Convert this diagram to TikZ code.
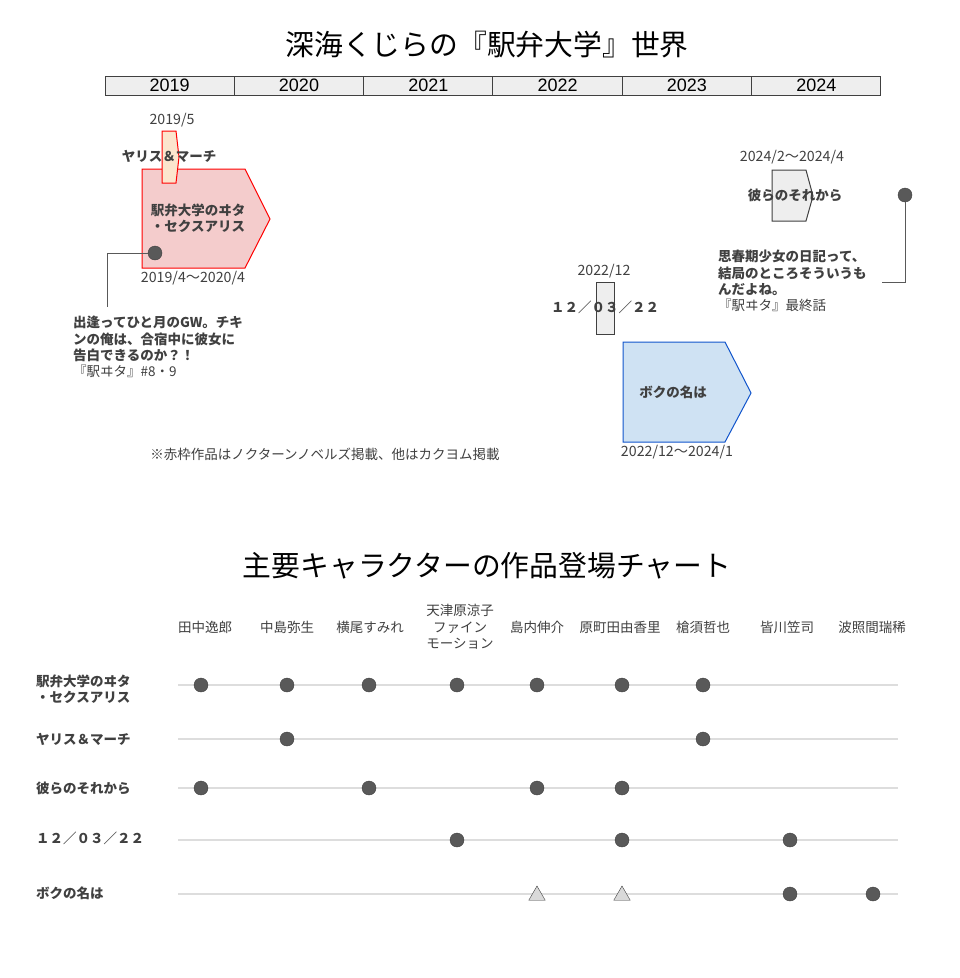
\documentclass[tikz,border=0pt]{standalone}
\usepackage{fontspec}
\setmainfont{Noto Sans CJK JP}
\newfontfamily\yearfont{Liberation Sans}
\usepackage{tikz}
\usetikzlibrary{shapes.geometric}

\definecolor{pinkfill}{HTML}{F4CCCC}
\definecolor{orangefill}{HTML}{FCE5CD}
\definecolor{grayfill}{HTML}{EEEEEE}
\definecolor{bluefill}{HTML}{CFE2F3}
\definecolor{blueedge}{HTML}{1155CC}
\definecolor{textgray}{HTML}{404040}
\definecolor{dotgray}{HTML}{595959}
\definecolor{linegray}{HTML}{DDDDDD}
\definecolor{trifill}{HTML}{D9D9D9}

\begin{document}
\begin{tikzpicture}[x=1pt,y=-1pt,
    txt/.style={inner sep=0pt, text=textgray, font=\fontsize{13.5}{16.3}\selectfont},
    bold/.style={txt, font=\fontsize{13.5}{16.3}\selectfont\bfseries},
    datetxt/.style={txt, font=\fontsize{14.2}{16}\selectfont},
    title/.style={inner sep=0pt, text=black, font=\fontsize{28.8}{32}\selectfont},
    yearcell/.style={draw=textgray, line width=1pt, fill=grayfill, minimum width=129.33pt, minimum height=19pt, inner sep=0pt, font=\yearfont\fontsize{18}{18}\selectfont},
    work/.style={line width=1pt},
    dot/.style={circle, fill=dotgray, draw=textgray, minimum size=14pt, inner sep=0pt},
    tri/.style={regular polygon, regular polygon sides=3, fill=trifill, draw=textgray, minimum size=19pt, inner sep=0pt},
    rowline/.style={draw=linegray, line width=1.5pt},
    leader/.style={draw=dotgray, line width=1pt}]
\useasboundingbox[fill=white] (0,0) rectangle (960,978);

% timeline
\node[title] (title1) at (487,45) {深海くじらの『駅弁大学』世界};
\foreach \yr [count=\i] in {2019,2020,2021,2022,2023,2024}
  \node[yearcell] (y\yr) at ({105+129.33*(\i-0.5)},85.5) {\yr};

\draw[work, red, fill=pinkfill] (142,169) -- (245,169) -- (270,219) -- (245,268) -- (142,268) -- cycle;
\draw[work, red, fill=orangefill] (162,131) -- (176,131) -- (179,157) -- (176,183) -- (162,183) -- cycle;
\draw[work, textgray, fill=grayfill] (772,170) -- (806,170) -- (813,196) -- (806,221) -- (772,221) -- cycle;
\draw[work, textgray, fill=grayfill] (596,282) rectangle (614,334);
\draw[work, blueedge, fill=bluefill] (623,342) -- (725,342) -- (751,393) -- (725,442) -- (623,442) -- cycle;

\node[bold, align=center] (ekiwita) at (198,218) {駅弁大学のヰタ\\・セクスアリス};
\node[datetxt] (ekiwitadate) at (193,278) {2019/4～2020/4};
\node[datetxt] (yarisdate) at (172,120) {2019/5};
\node[bold] (yaris) at (169,156) {ヤリス＆マーチ};
\node[datetxt] (karedate) at (792,157) {2024/2～2024/4};
\node[bold] (kare) at (795,195) {彼らのそれから};
\node[datetxt] (daydate) at (604,271) {2022/12};
\node[bold] (day) at (605,307) {１２／０３／２２};
\node[bold] (boku) at (673,392) {ボクの名は};
\node[datetxt] (bokudate) at (677,452) {2022/12～2024/1};

% callouts
\node[dot] (gw) at (155,253) {};
\coordinate (gwend) at (107,307);
\draw[leader] (gw) -| (gwend);
\node[bold, align=left, anchor=north west] (gwtext) at (73,316)
  {出逢ってひと月のGW。チキ\\ンの俺は、合宿中に彼女に\\告白できるのか？！\\{\mdseries 『駅ヰタ』\#8・9}};
\node[dot] (last) at (905,195) {};
\coordinate (lastend) at (882,282);
\draw[leader] (last) |- (lastend);
\node[bold, align=left, anchor=north west] (lasttext) at (718,250)
  {思春期少女の日記って、\\結局のところそういうも\\んだよね。\\{\mdseries 『駅ヰタ』最終話}};

\node[txt] (note) at (325,454) {※赤枠作品はノクターンノベルズ掲載、他はカクヨム掲載};

% chart
\node[title] (title2) at (487,566) {主要キャラクターの作品登場チャート};
\foreach \x/\hx/\name [count=\j] in {201/205/田中逸郎, 287/287/中島弥生, 369/370/横尾すみれ,
    457/460/{天津原涼子\\ファイン\\モーション}, 537/537/島内伸介, 622/620/原町田由香里,
    703/703/槍須哲也, 790/787/皆川笠司, 873/872/波照間瑞稀} {
  \coordinate (col\j) at (\x,0);
  \node[txt, align=center, font=\fontsize{13.5}{16.5}\selectfont] (head\j) at (\hx,627) {\name};
}
\foreach \y/\ly/\name [count=\i] in {685/689/{駅弁大学のヰタ\\・セクスアリス}, 739/739/ヤリス＆マーチ,
    788/788/彼らのそれから, 840/838/１２／０３／２２, 894/893/ボクの名は} {
  \node[bold, align=left, anchor=west] (row\i) at (36,\ly) {\name};
  \coordinate (rl\i) at (178,\y);
  \coordinate (rr\i) at (898,\y);
  \draw[rowline] (rl\i) -- (rr\i);
}
\foreach \r/\c in {1/1,1/2,1/3,1/4,1/5,1/6,1/7, 2/2,2/7, 3/1,3/3,3/5,3/6,
    4/4,4/6,4/8, 5/8,5/9}
  \node[dot] (d\r-\c) at (col\c |- rl\r) {};
\foreach \c in {5,6}
  \node[tri] (t5-\c) at ([yshift=-1.5pt]col\c |- rl5) {};
\end{tikzpicture}
\end{document}
